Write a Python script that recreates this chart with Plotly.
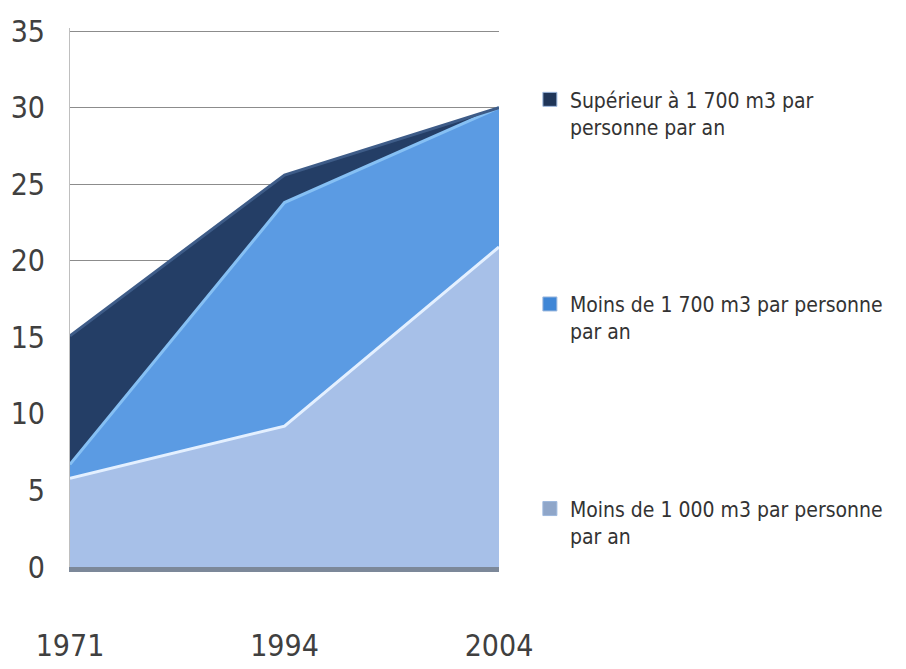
import plotly.graph_objects as go

years = ["1971", "1994", "2004"]
moins_1000 = [5.8, 9.2, 20.9]
moins_1700 = [0.9, 14.6, 9.1]
sup_1700 = [8.4, 1.8, 0.0]

names = [
    "Moins de 1 000 m3 par personne<br>par an",
    "Moins de 1 700 m3 par personne<br>par an",
    "Supérieur à 1 700 m3 par<br>personne par an",
]
fills = ["#A7C0E8", "#5B9BE3", "#243E66"]
lines = ["#E4F0FF", "#86C0F4", "#3E5C88"]
legend_cols = ["#8FA6C9", "#3F86D6", "#1F3558"]
series = [moins_1000, moins_1700, sup_1700]

FONT = "DejaVu Sans Condensed, DejaVu Sans, sans-serif"
xpos = list(range(len(years)))

fig = go.Figure()
for i, (nm, vals) in enumerate(zip(names, series)):
    fig.add_trace(go.Scatter(
        x=xpos, y=vals, name=nm, mode="lines",
        stackgroup="one", fillcolor=fills[i],
        line=dict(color=lines[i], width=3),
        showlegend=False,
    ))
for i, nm in enumerate(names):
    fig.add_trace(go.Scatter(
        x=[None], y=[None], name=nm, mode="markers",
        marker=dict(symbol="square", size=14, color=legend_cols[i],
                    line=dict(color="#9DB8DD", width=1)),
        legendgroup=f"g{i}", legendrank=3 - i,
    ))

fig.update_layout(
    width=898, height=661,
    margin=dict(l=62, r=407, t=20, b=102),
    plot_bgcolor="white", paper_bgcolor="white",
    font=dict(family=FONT, color="#404040"),
    legend=dict(
        x=1.072, y=0.905, xanchor="left", yanchor="top", valign="top",
        traceorder="grouped", tracegroupgap=147,
        font=dict(size=21, family=FONT, color="#333333"),
        bgcolor="rgba(0,0,0,0)", borderwidth=0,
    ),
    xaxis=dict(
        range=[0, 2], tickvals=xpos, ticktext=years,
        showgrid=False, zeroline=False, ticks="", automargin=False,
        showline=True, linecolor="#7C8899", linewidth=5,
        tickfont=dict(size=30, family=FONT, color="#404040"),
        ticklabelstandoff=48,
    ),
    yaxis=dict(
        range=[0, 35.2], tickvals=[0, 5, 10, 15, 20, 25, 30, 35],
        showgrid=True, gridcolor="#8C8C8C", gridwidth=1, automargin=False,
        zeroline=False, ticks="", showline=True, linecolor="#BFBFBF", linewidth=1,
        tickfont=dict(size=30, family=FONT, color="#404040"),
        ticklabelstandoff=18,
    ),
)

fig.write_html("out.html")
